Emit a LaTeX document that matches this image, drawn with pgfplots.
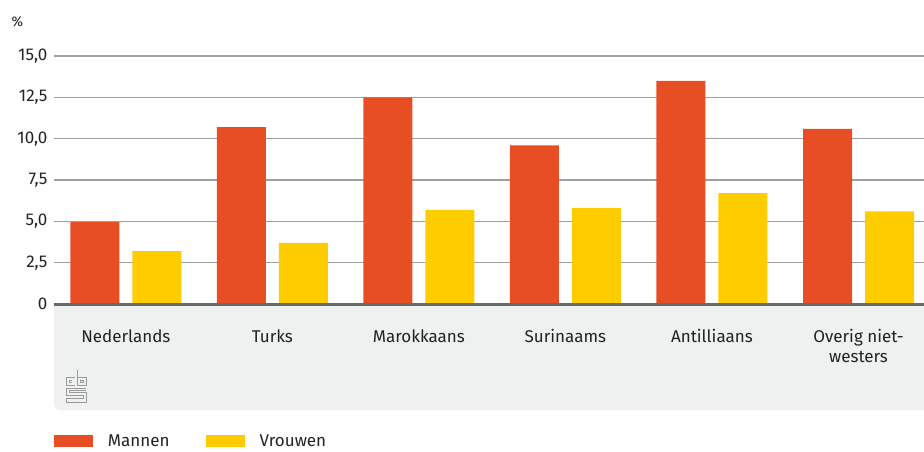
\documentclass[border=0pt]{standalone}
\usepackage{fontspec}
\setmainfont{Fira Sans}
\usepackage{pgfplots}
\pgfplotsset{compat=1.18}
\definecolor{cbsred}{HTML}{E84E24}
\definecolor{cbsyellow}{HTML}{FFCC00}
\definecolor{panel}{HTML}{EFF0F0}
\definecolor{gridc}{HTML}{A0A0A0}
\definecolor{axisgray}{HTML}{6A6A6A}
\definecolor{txt}{HTML}{222222}
\definecolor{logo}{HTML}{9A9A9A}
\begin{document}
\begin{tikzpicture}[font=\fontsize{17}{20}\selectfont,every node/.style={text=txt}]
\path[use as bounding box] (0pt,0pt) rectangle (924pt,451pt);
\fill[panel] (924pt,147pt) -- (54pt,147pt) [rounded corners=6pt] -- (54pt,41pt) [sharp corners] -- (924pt,41pt) -- cycle;
% cbs logo (decoration)
\begin{scope}[logo, line width=0.9pt, x=1pt, y=-1pt, shift={(0pt,451pt)}]
\draw (75,377) -- (66,377) -- (66,385) -- (75,385);
\draw (72,380) -- (69,380) -- (69,382) -- (72,382);
\draw (77,370) -- (77,385) -- (86,385) -- (86,377) -- (77,377);
\draw (80,380) rectangle (83,382);
\draw (86,388) -- (66,388) -- (66,395) -- (83,395) -- (83,398) -- (66,398) -- (66,402) -- (86,402) -- (86,392) -- (69,392) -- (69,390) -- (86,390);
\end{scope}
\node[anchor=west, font=\fontsize{14}{16}\selectfont] at (8pt,429pt) {\%};
\begin{axis}[
  at={(125.8pt,147pt)}, anchor=origin,
  scale only axis, width=870pt, height=248pt,
  xmin=-0.49, xmax=5.447, ymin=0, ymax=15,
  clip=false,
  axis line style={draw=none},
  major tick length=0pt,
  ymajorgrids, grid style={gridc, line width=1.3pt},
  ytick={0,2.5,5,7.5,10,12.5,15},
  yticklabels={0,{2,5},{5,0},{7,5},{10,0},{12,5},{15,0}},
  yticklabel style={xshift=-3pt},
  xtick={0,1,2,3,4,5},
  xticklabels={Nederlands,Turks,Marokkaans,Surinaams,Antilliaans,{Overig niet-\\westers}},
  xticklabel style={align=center, anchor=north, yshift=-22pt},
  ybar=13pt, bar width=49pt,
  legend style={at={(axis description cs:0,-0.5524)}, anchor=west, draw=none, fill=none,
    inner sep=0pt, outer sep=0pt, legend columns=2,
    /tikz/every even column/.append style={column sep=36pt},
    nodes={inner sep=0pt, text=txt}},
  legend image code/.code={\fill (0pt,-6pt) rectangle (39pt,6pt); \path (54pt,0pt);},
]
\addplot[fill=cbsred, draw=none] coordinates {(0,4.95) (1,10.7) (2,12.5) (3,9.6) (4,13.5) (5,10.6)};
\addplot[fill=cbsyellow, draw=none] coordinates {(0,3.2) (1,3.7) (2,5.7) (3,5.8) (4,6.7) (5,5.6)};
\legend{Mannen,Vrouwen}
\draw[axisgray, line width=3pt] (rel axis cs:0,0) -- (rel axis cs:1,0);
\end{axis}
\end{tikzpicture}
\end{document}
